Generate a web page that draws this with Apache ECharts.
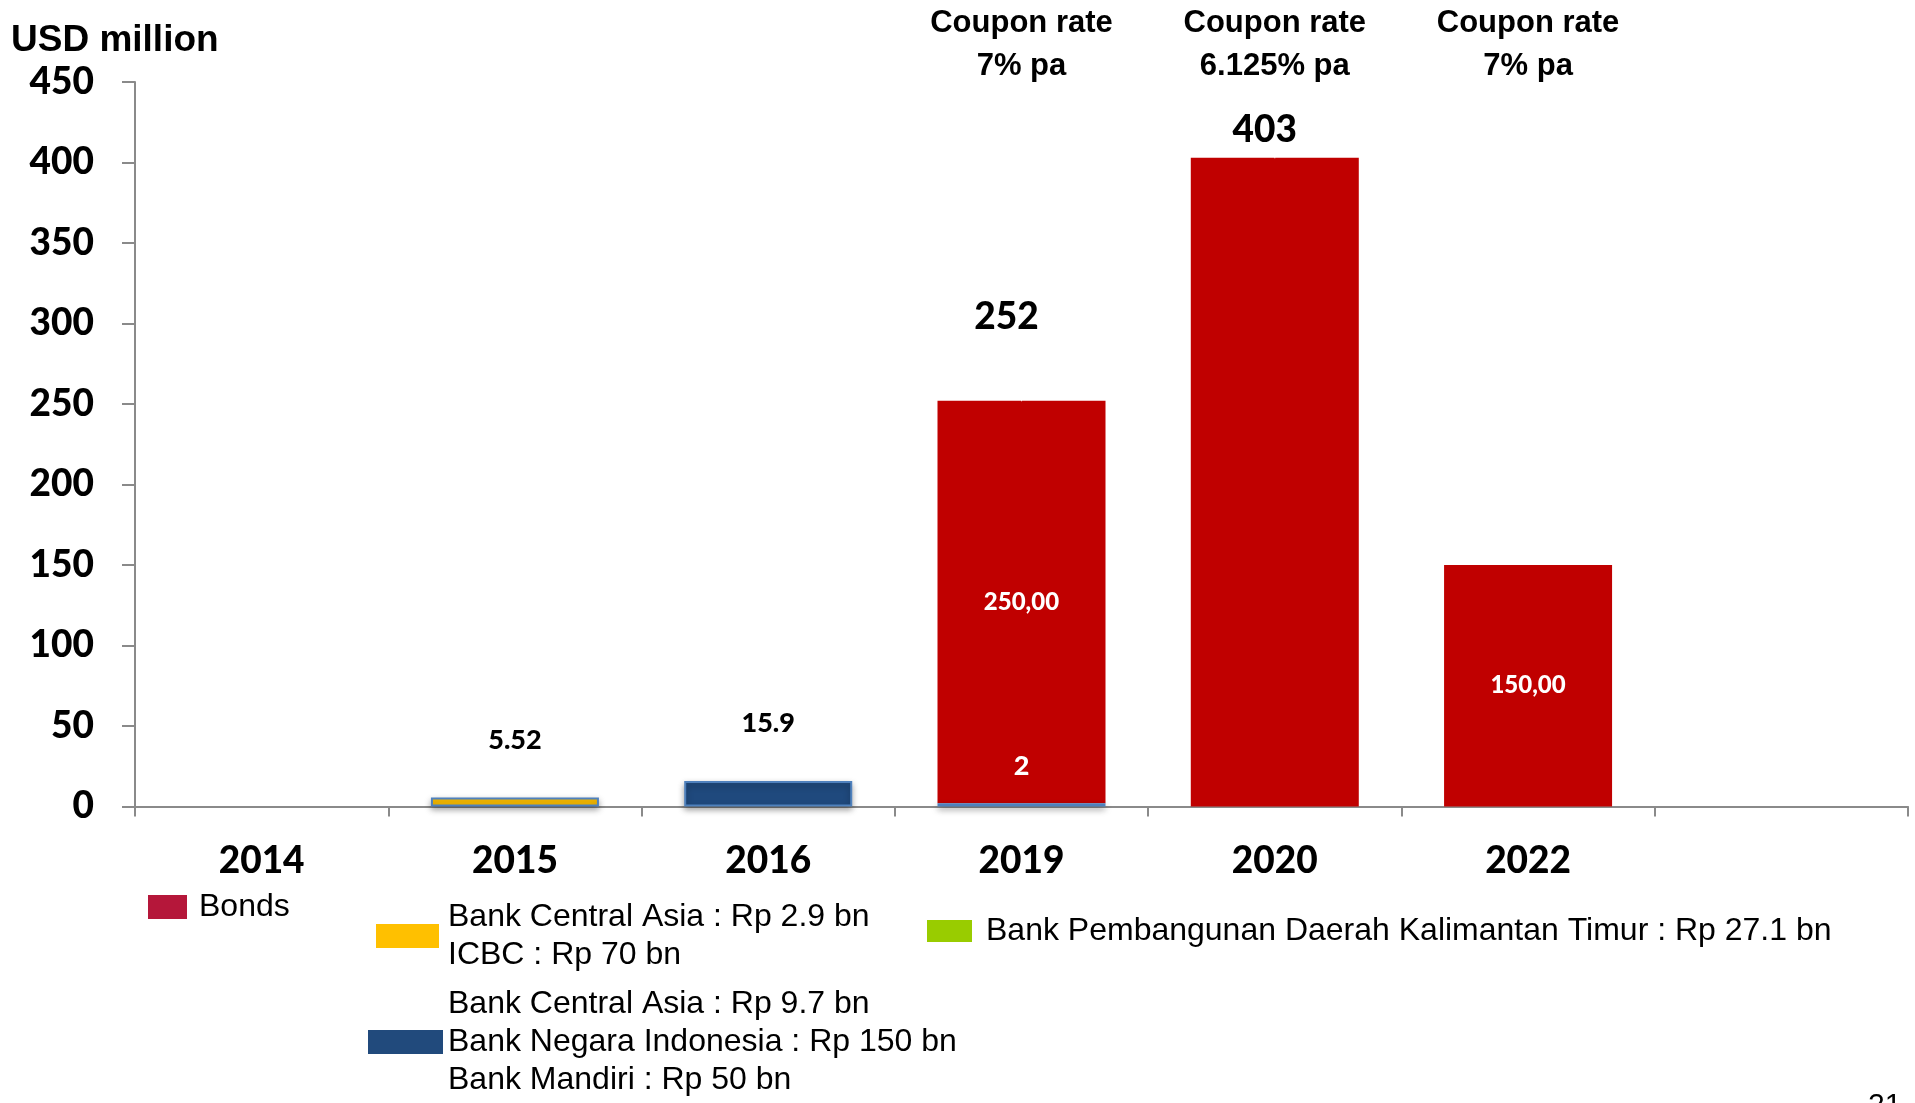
<!DOCTYPE html>
<html>
<head>
<meta charset="utf-8">
<script src="https://cdn.jsdelivr.net/npm/echarts@6/dist/echarts.min.js"></script>
<style>
  html, body { margin: 0; padding: 0; background: #fff; }
  #chart { width: 1915px; height: 1103px; }
</style>
</head>
<body>
<div id="chart"></div>
<script>
// Categories (the last slot is left empty)
const categories = ['2014', '2015', '2016', '2019', '2020', '2022', ''];

// USD million per year
const bonds     = [null, null, null, 250, 403, 150, null];
const loans2015 = [null, 5.52, null, null, null, null, null];
const loans2016 = [null, null, 15.9, null, null, null, null];
const loans2019 = [null, null, null, 2, null, null, null];
const totals    = [null, null, null, 252, 403, null, null];

// Y axis ticks
const yTicks = [0, 50, 100, 150, 200, 250, 300, 350, 400, 450];

// Notes above the bond bars
const couponYears = ['2019', '2020', '2022'];
const couponNotes = ['Coupon rate\n7% pa', 'Coupon rate\n6.125% pa', 'Coupon rate\n7% pa'];

// Series names (as shown in the legend)
const nameBonds = 'Bonds';
const name2015 = 'Bank Central Asia : Rp 2.9 bn\nICBC : Rp 70 bn';
const name2016 = 'Bank Central Asia : Rp 9.7 bn\nBank Negara Indonesia : Rp 150 bn\nBank Mandiri : Rp 50 bn';
const name2019 = 'Bank Pembangunan Daerah Kalimantan Timur : Rp 27.1 bn';

const RED = '#C00000', YELLOW = '#FFC000', NAVY = '#1F497D', GREEN = '#92D050';
const SANS = '"Liberation Sans", Arial, sans-serif';
const NUM = 'Lato, "Open Sans", sans-serif';
const NUM_WEIGHT = 900;

// Inside labels of the bond bars are hidden where the total sits on top
const bondsInnerHidden = ['2020'];
// Placement of the total labels
const totalLabelPlace = { '2019': { distance: 65, offset: [-15, 0] }, '2020': { distance: 9, offset: [-10, 0] } };

const loanItemStyle = (color) => ({
  color: color,
  borderColor: '#4F81BD',
  borderWidth: 2,
  shadowBlur: 6,
  shadowOffsetY: 3,
  shadowColor: 'rgba(0,0,0,0.35)'
});

const smallLabel = (color, distance) => ({
  show: true, position: 'top', distance: distance,
  color: color, fontFamily: NUM, fontWeight: NUM_WEIGHT, fontSize: 27,
  formatter: (p) => p.value
});

const legendText = { fontFamily: SANS, fontSize: 32, color: '#000', lineHeight: 38 };

const chart = echarts.init(document.getElementById('chart'), null, { renderer: 'canvas' });

const option = {
  animation: false,
  backgroundColor: '#fff',
  title: {
    text: 'USD million',
    left: 11, top: 22, padding: 0,
    textStyle: { fontFamily: SANS, fontWeight: 'bold', fontSize: 37, color: '#000' }
  },
  legend: [
    { left: 148, top: 888, padding: 0, itemWidth: 39, itemHeight: 24, selectedMode: false,
      data: [{ name: nameBonds, icon: 'rect', itemStyle: { color: '#B5173A', borderWidth: 0, shadowBlur: 0 } }],
      textStyle: Object.assign({ padding: [0, 0, 0, 7] }, legendText) },
    { left: 376, top: 898, padding: 0, itemWidth: 63, itemHeight: 24, selectedMode: false,
      data: [{ name: name2015, icon: 'rect', itemStyle: { color: YELLOW, borderWidth: 0, shadowBlur: 0 } }],
      textStyle: Object.assign({ padding: [0, 0, 0, 4] }, legendText) },
    { left: 368, top: 985, padding: 0, itemWidth: 75, itemHeight: 24, selectedMode: false,
      data: [{ name: name2016, icon: 'rect', itemStyle: { color: '#214A7C', borderWidth: 0, shadowBlur: 0 } }],
      textStyle: Object.assign({ padding: [0, 0, 0, 0] }, legendText) },
    { left: 927, top: 912, padding: 0, itemWidth: 45, itemHeight: 22, selectedMode: false,
      data: [{ name: name2019, icon: 'rect', itemStyle: { color: '#99CC00', borderWidth: 0, shadowBlur: 0 } }],
      textStyle: Object.assign({ padding: [0, 0, 0, 9] }, legendText) }
  ],
  grid: { left: 135, right: 7, top: 82, bottom: 296.5, containLabel: false, outerBoundsMode: 'none' },
  xAxis: {
    type: 'category',
    data: categories,
    boundaryGap: true,
    axisLine: { lineStyle: { color: '#8a8a8a', width: 2 } },
    axisTick: { show: true, length: 10, lineStyle: { color: '#8a8a8a', width: 2 } },
    axisLabel: { margin: 36, color: '#000', fontFamily: NUM, fontWeight: NUM_WEIGHT, fontSize: 37 },
    splitLine: { show: false }
  },
  yAxis: {
    type: 'value',
    min: yTicks[0], max: yTicks[yTicks.length - 1], interval: yTicks[1] - yTicks[0],
    axisLine: { show: true, lineStyle: { color: '#8a8a8a', width: 2 } },
    axisTick: { show: true, length: 13, lineStyle: { color: '#8a8a8a', width: 2 } },
    axisLabel: { margin: 41, color: '#000', fontFamily: NUM, fontWeight: NUM_WEIGHT, fontSize: 37 },
    splitLine: { show: false }
  },
  series: [
    {
      name: name2015, type: 'bar', stack: 'total', barWidth: 168,
      data: loans2015, itemStyle: loanItemStyle(YELLOW),
      label: smallLabel('#000', 44)
    },
    {
      name: name2016, type: 'bar', stack: 'total', barWidth: 168,
      data: loans2016, itemStyle: loanItemStyle(NAVY),
      label: smallLabel('#000', 44)
    },
    {
      name: name2019, type: 'bar', stack: 'total', barWidth: 168, z: 3,
      data: loans2019, itemStyle: loanItemStyle(GREEN),
      label: smallLabel('#fff', 23)
    },
    {
      name: nameBonds, type: 'bar', stack: 'total', barWidth: 168,
      data: bonds.map((v, i) => v == null ? null : {
        value: v, label: { show: bondsInnerHidden.indexOf(categories[i]) < 0 }
      }),
      itemStyle: { color: RED },
      label: {
        position: 'inside', color: '#fff', fontFamily: NUM, fontWeight: NUM_WEIGHT, fontSize: 24,
        formatter: (p) => Number(p.value).toFixed(2).replace('.', ',')
      }
    },
    {
      // Totals: invisible points whose labels sit above the stacks
      name: 'Total', type: 'scatter', symbol: 'rect', symbolSize: 1, z: 5,
      itemStyle: { color: '#ffffff', opacity: 1 },
      data: totals.map((v, i) => v == null ? null : {
        value: v,
        label: Object.assign({
          show: true, position: 'top', color: '#000000', opacity: 1,
          textBorderWidth: 0, textShadowBlur: 0,
          fontFamily: NUM, fontWeight: NUM_WEIGHT, fontSize: 37,
          formatter: (p) => String(p.value)
        }, totalLabelPlace[categories[i]] || {})
      }),
      emphasis: { disabled: true },
      tooltip: { show: false }
    }
  ]
};

chart.setOption(option);

// Coupon notes centred over their categories, plus the page number
const graphics = couponYears.map((yr, i) => ({
  type: 'text',
  x: chart.convertToPixel({ xAxisIndex: 0 }, yr),
  y: 2,
  style: {
    text: couponNotes[i], align: 'center', verticalAlign: 'top', lineHeight: 43,
    font: 'bold 31px "Liberation Sans", Arial, sans-serif', fill: '#000'
  }
}));
graphics.push({
  type: 'text', x: 1868, y: 1091,
  style: { text: '21', font: '30px "Liberation Sans", Arial, sans-serif', fill: '#000', verticalAlign: 'top' }
});
chart.setOption({ graphic: graphics });
</script>
</body>
</html>
